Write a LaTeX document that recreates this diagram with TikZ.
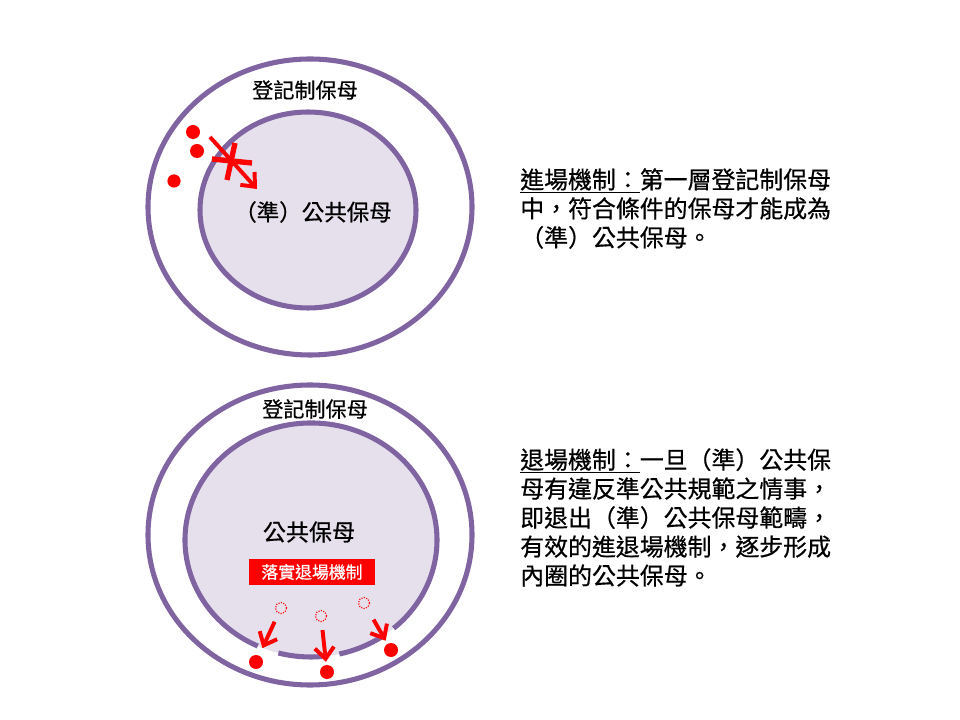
\documentclass[tikz,border=0pt]{standalone}
\usepackage{fontspec}
\setmainfont{Noto Sans CJK TC}[FakeBold=0.6]
\usepackage{xcolor}
\usetikzlibrary{arrows.meta}
\definecolor{ringpurple}{HTML}{8064A2}
\definecolor{corelav}{HTML}{E6E0EC}
\definecolor{alertred}{HTML}{FF0000}

\begin{document}
\begin{tikzpicture}[x=0.025cm,y=-0.025cm,
    ring/.style={draw=ringpurple,line width=3.6pt},
    core/.style={fill=corelav},
    ringtext/.style={inner sep=0pt,font=\fontsize{15pt}{18pt}\selectfont},
    coretext/.style={inner sep=0pt,font=\fontsize{16pt}{19pt}\selectfont},
    exitbox/.style={fill=alertred,text=white,inner sep=0pt,minimum width=3.125cm,minimum height=0.625cm,font=\fontsize{12pt}{14pt}\selectfont},
    note/.style={anchor=north west,inner sep=0pt,align=left,font=\fontsize{17pt}{20.6pt}\selectfont},
    reddot/.style={circle,fill=alertred,inner sep=0pt,minimum size=0.35cm},
    gonedot/.style={circle,draw=alertred,densely dotted,line width=0.8pt,inner sep=0pt,minimum size=0.28cm},
    movearrow/.style={draw=alertred,line width=2.8pt,-{Straight Barb[length=2.8mm,width=4.8mm]}},
    blockline/.style={draw=alertred,line width=3.8pt}]
    \path[fill=white] (0,0) rectangle (960,720);
    % entry mechanism
    \draw[ring] (310,207) ellipse [x radius=162,y radius=148];
    \filldraw[ring,core] (308,210) ellipse [x radius=108,y radius=98];
    \node[ringtext] (topreg) at (305,90) {登記制保母};
    \node[coretext] (topcore) at (313,212) {（準）公共保母};
    \node[reddot] (a1) at (193,132) {};
    \node[reddot] (a2) at (197,151) {};
    \node[reddot,minimum size=0.33cm] (a3) at (174,181) {};
    \coordinate (entryfrom) at (210,137);
    \coordinate (entryto) at (257,189);
    \draw[movearrow] (entryfrom) -- (entryto);
    \draw[blockline] (212,159) -- (252,163);
    \draw[blockline] (235,143) -- (227,180);
    \node[note] (entrynote) at (520,168) {\underline{進場機制：}第一層登記制保母\\中，符合條件的保母才能成為\\（準）公共保母。};
    % exit mechanism
    \draw[ring] (310,535) ellipse [x radius=162,y radius=150];
    \fill[core] (311,540) ellipse [x radius=126,y radius=117];
    \draw[ring] (311,540) ++(115:126 and 117) arc [start angle=115,end angle=409,x radius=126,y radius=117];
    \draw[ring] (311,540) ++(85:126 and 117) arc [start angle=85,end angle=105,x radius=126,y radius=117];
    \draw[ring] (311,540) ++(56:126 and 117) arc [start angle=56,end angle=77,x radius=126,y radius=117];
    \node[ringtext] (botreg) at (315,409) {登記制保母};
    \node[coretext,font=\fontsize{16.4pt}{19pt}\selectfont] (botcore) at (309,532) {公共保母};
    \node[exitbox] (exitlabel) at (312,572) {落實退場機制};
    \node[gonedot] (e1) at (281,608) {};
    \node[gonedot] (e2) at (321,616) {};
    \node[gonedot] (e3) at (364,603) {};
    \node[reddot] (d1) at (256,662) {};
    \node[reddot] (d2) at (327,672) {};
    \node[reddot] (d3) at (391,650) {};
    \draw[movearrow,shorten <=0.225cm,shorten >=0.2cm] (e1) -- (d1);
    \draw[movearrow,shorten <=0.2cm,shorten >=0.075cm] (e2) -- (d2);
    \draw[movearrow,shorten <=0.325cm,shorten >=0.085cm] (e3) -- (d3);
    \node[note] (exitnote) at (520,448) {\underline{退場機制：}一旦（準）公共保\\母有違反準公共規範之情事，\\即退出（準）公共保母範疇，\\有效的進退場機制，逐步形成\\內圈的公共保母。};
\end{tikzpicture}
\end{document}
